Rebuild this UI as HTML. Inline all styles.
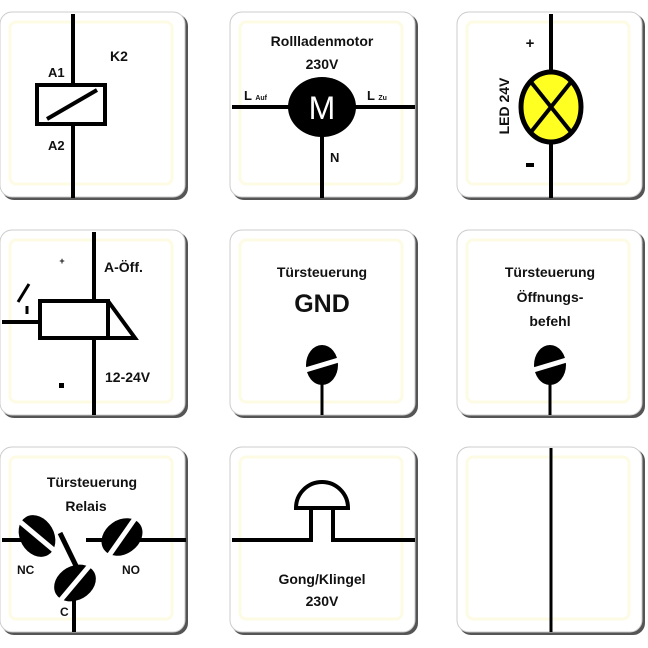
<!DOCTYPE html>
<html><head><meta charset="utf-8"><style>
html,body{margin:0;padding:0;background:#fff}
svg{display:block}
text{font-family:"Liberation Sans",sans-serif;font-weight:bold;fill:#111}
</style></head><body>
<svg width="648" height="648" viewBox="0 0 648 648" xmlns="http://www.w3.org/2000/svg">
<defs>
<g id="tile">
<rect x="2" y="2" width="186" height="186" rx="12" fill="#555"/>
<rect x="0" y="0" width="185" height="185" rx="12" fill="#fff" stroke="#ccc" stroke-width="1"/>
<rect x="10" y="10" width="162" height="162" rx="6" fill="none" stroke="#fdfbe4" stroke-width="3"/>
</g>
<g id="term">
<ellipse cx="0" cy="0" rx="16" ry="20" fill="#000"/>
<line x1="-20" y1="6" x2="20" y2="-6" stroke="#fff" stroke-width="5"/>
</g>
</defs>
<use href="#tile" x="0" y="12"/><use href="#tile" x="230" y="12"/><use href="#tile" x="457" y="12"/>
<use href="#tile" x="0" y="230"/><use href="#tile" x="230" y="230"/><use href="#tile" x="457" y="230"/>
<use href="#tile" x="0" y="447"/><use href="#tile" x="230" y="447"/><use href="#tile" x="457" y="447"/>

<!-- tile1 relay -->
<line x1="73" y1="14" x2="73" y2="198" stroke="#000" stroke-width="4"/>
<rect x="37" y="85" width="68" height="39" fill="#fff" stroke="#000" stroke-width="4"/>
<line x1="47" y1="119" x2="97" y2="90" stroke="#000" stroke-width="4"/>
<text x="48" y="77" font-size="13">A1</text>
<text x="110" y="61" font-size="14">K2</text>
<text x="48" y="150" font-size="13">A2</text>

<!-- tile2 motor -->
<text x="322" y="46" font-size="14" text-anchor="middle">Rollladenmotor</text>
<text x="322" y="69" font-size="14" text-anchor="middle" font-weight="normal">230V</text>
<line x1="232" y1="107" x2="415" y2="107" stroke="#000" stroke-width="4"/>
<line x1="322" y1="108" x2="322" y2="198" stroke="#000" stroke-width="4"/>
<ellipse cx="322" cy="107" rx="34" ry="30" fill="#000"/>
<text x="322" y="119" font-size="32" text-anchor="middle" font-weight="normal" style="fill:#fff;font-weight:normal">M</text>
<text x="244" y="100" font-size="13">L <tspan font-size="7">Auf</tspan></text>
<text x="367" y="100" font-size="13">L <tspan font-size="7">Zu</tspan></text>
<text x="330" y="162" font-size="13">N</text>

<!-- tile3 LED -->
<line x1="551" y1="14" x2="551" y2="198" stroke="#000" stroke-width="4"/>
<ellipse cx="551" cy="107" rx="30" ry="35" fill="#ffff22" stroke="#000" stroke-width="5"/>
<line x1="531" y1="82" x2="571" y2="132" stroke="#000" stroke-width="4"/>
<line x1="571" y1="82" x2="531" y2="132" stroke="#000" stroke-width="4"/>
<text x="530" y="48" font-size="15" text-anchor="middle">+</text>
<rect x="526" y="163" width="8" height="4" fill="#000"/>
<text transform="translate(509,106) rotate(-90)" font-size="14" text-anchor="middle">LED 24V</text>

<!-- row2 tile1 door opener -->
<line x1="94" y1="232" x2="94" y2="415" stroke="#000" stroke-width="4"/>
<rect x="40" y="301" width="68" height="37" fill="#fff" stroke="#000" stroke-width="4"/>
<path d="M108 301 L135 338 H108" fill="none" stroke="#000" stroke-width="4" stroke-linejoin="miter"/>
<line x1="2" y1="322" x2="40" y2="322" stroke="#000" stroke-width="4"/>
<line x1="18" y1="302" x2="29" y2="284" stroke="#000" stroke-width="3"/>
<line x1="27" y1="306" x2="27" y2="314" stroke="#000" stroke-width="3"/>
<text x="62" y="264" font-size="9" text-anchor="middle">+</text>
<text x="104" y="272" font-size="14">A-Öff.</text>
<rect x="59" y="383" width="5" height="5" fill="#000"/>
<text x="105" y="382" font-size="14">12-24V</text>

<!-- row2 tile2 GND -->
<text x="322" y="277" font-size="14" text-anchor="middle">Türsteuerung</text>
<text x="322" y="312" font-size="25" text-anchor="middle" font-weight="normal">GND</text>
<line x1="322" y1="380" x2="322" y2="415" stroke="#000" stroke-width="3"/>
<use href="#term" x="322" y="365"/>

<!-- row2 tile3 -->
<text x="550" y="277" font-size="14" text-anchor="middle">Türsteuerung</text>
<text x="550" y="302" font-size="14" text-anchor="middle">Öffnungs-</text>
<text x="550" y="326" font-size="14" text-anchor="middle">befehl</text>
<line x1="550" y1="380" x2="550" y2="415" stroke="#000" stroke-width="3"/>
<use href="#term" x="550" y="365"/>

<!-- row3 tile1 relay contacts -->
<text x="92" y="487" font-size="14" text-anchor="middle">Türsteuerung</text>
<text x="86" y="511" font-size="14" text-anchor="middle">Relais</text>
<line x1="2" y1="540" x2="30" y2="540" stroke="#000" stroke-width="4"/>
<line x1="86" y1="540" x2="186" y2="540" stroke="#000" stroke-width="4"/>
<g transform="translate(37,536) rotate(-30)"><ellipse rx="17" ry="22" fill="#000"/><line x1="0" y1="-26" x2="0" y2="26" stroke="#fff" stroke-width="5" transform="rotate(-20)"/></g>
<g transform="translate(122,537) rotate(55)"><ellipse rx="17" ry="22" fill="#000"/><line x1="0" y1="-26" x2="0" y2="26" stroke="#fff" stroke-width="5" transform="rotate(-20)"/></g>
<line x1="60" y1="533" x2="80" y2="574" stroke="#000" stroke-width="5"/>
<g transform="translate(75,583) rotate(60)"><ellipse rx="17" ry="22" fill="#000"/><line x1="0" y1="-26" x2="0" y2="26" stroke="#fff" stroke-width="5" transform="rotate(-20)"/></g>
<line x1="74" y1="598" x2="74" y2="632" stroke="#000" stroke-width="4"/>
<text x="17" y="574" font-size="12">NC</text>
<text x="122" y="574" font-size="12">NO</text>
<text x="60" y="616" font-size="12">C</text>

<!-- row3 tile2 gong -->
<path d="M232 540 H311 V508 M333 508 V540 H415" fill="none" stroke="#000" stroke-width="4"/>
<path d="M296 508 A26 26 0 0 1 348 508 Z" fill="#fff" stroke="#000" stroke-width="4"/>
<text x="322" y="584" font-size="14" text-anchor="middle" font-weight="normal">Gong/Klingel</text>
<text x="322" y="606" font-size="14" text-anchor="middle" font-weight="normal">230V</text>

<!-- row3 tile3 -->
<line x1="551" y1="448" x2="551" y2="632" stroke="#000" stroke-width="3"/>
</svg>
</body></html>
